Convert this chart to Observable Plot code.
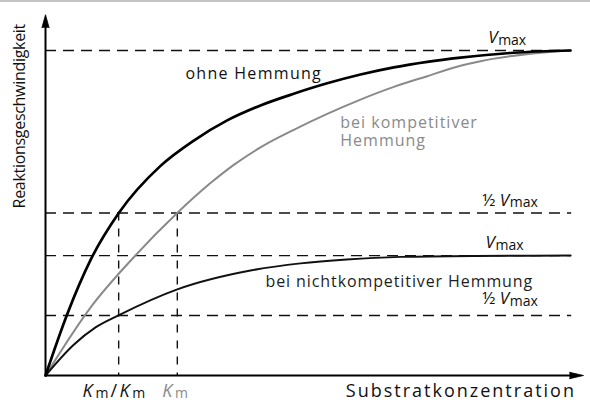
<!DOCTYPE html>
<html>
<head>
<meta charset="utf-8">
<script src="https://cdn.jsdelivr.net/npm/d3@7"></script>
<script src="https://cdn.jsdelivr.net/npm/@observablehq/plot@0.6"></script>
<style>
  html, body { margin: 0; padding: 0; background: #fff; }
  #wrap { position: relative; width: 590px; height: 419px; overflow: hidden; }
  #topline { position: absolute; left: 0; top: 0; width: 590px; height: 2px; background: #c4c4c4; }
</style>
</head>
<body>
<div id="wrap"><div id="topline"></div></div>
<script>
// Substrate concentration in axis units (0..100 = full x axis); rate as fraction of Vmax
const sOhne  = [0, 4.09, 8.36, 13.62, 21.38, 27.57, 33.77, 39.96, 46.15, 52.36, 58.55, 64.74, 70.95, 77.14, 86.99, 97.58];
const vOhne  = [0, 0.191, 0.355, 0.5, 0.645, 0.723, 0.785, 0.831, 0.867, 0.899, 0.926, 0.948, 0.965, 0.978, 0.993, 1.0];

const sKomp  = [0, 8.36, 16.41, 24.48, 30.67, 35.0, 39.96, 46.15, 52.36, 58.55, 64.74, 70.95, 77.14, 80.86, 90.15, 97.58];
const vKomp  = [0, 0.209, 0.364, 0.5, 0.592, 0.648, 0.702, 0.756, 0.805, 0.849, 0.888, 0.921, 0.953, 0.967, 0.990, 1.0];

const sNicht = [0, 5.2, 9.3, 13.57, 24.5, 38.1, 47.4, 56.0, 66.0, 80.0, 97.6];
const vNicht = [0, 0.094, 0.148, 0.185, 0.265, 0.323, 0.345, 0.357, 0.365, 0.368, 0.369];

// reference levels
const vmax = 1.0;
const vmaxNicht = 0.369;
const hLevels = [vmax, vmax / 2, vmaxNicht, vmaxNicht / 2];
const hEnd = 97.8;
const kmValues = [13.6, 24.5];     // Km (ohne / nichtkompetitiv), Km (kompetitiv)

// labels (x, baseline y in data units)
const lblText  = ["ohne Hemmung", "bei kompetitiver\nHemmung", "V_max", "½ V_max", "V_max", "bei nichtkompetitiver Hemmung", "½ V_max", "K_m/K_m", "K_m"];
const lblX     = [26.0, 54.8, 82.3, 81.2, 81.8, 40.9, 81.2, 6.9, 21.7];
const lblY     = [0.911, 0.705, 1.022, 0.523, 0.391, 0.271, 0.219, -0.065, -0.065];
const lblColor = ["#111", "#8a8a8a", "#111", "#111", "#111", "#1e1e1e", "#111", "#111", "#8a8a8a"];
const lblSize  = [16, 16, 17, 17, 17, 16, 17, 18, 18];

const xTitle = "Substratkonzentration";
const yTitle = "Reaktionsgeschwindigkeit";

const idx = (a) => a.map((_, i) => i);
const font = "'Open Sans', 'Noto Sans', sans-serif";
const textMark = (size) => Plot.text(idx(lblText).filter(i => lblSize[i] === size), {
  x: i => lblX[i], y: i => lblY[i], text: i => lblText[i], fill: i => lblColor[i],
  fontSize: size, lineHeight: 1.125, textAnchor: "start", lineAnchor: "bottom"
});

const chart = Plot.plot({
  width: 590,
  height: 419,
  marginTop: 0, marginRight: 0, marginBottom: 0, marginLeft: 0,
  x: { domain: [0, 100], range: [45, 583], axis: null },
  y: { domain: [0, 1], range: [375, 50], axis: null },
  style: { fontFamily: font, background: "transparent", overflow: "visible" },
  marks: [
    // dashed guides
    Plot.ruleY(hLevels, { x1: 0, x2: hEnd, stroke: "#111", strokeWidth: 1.4, strokeDasharray: "11,7" }),
    Plot.ruleX(kmValues, { y1: 0.5, y2: 0, stroke: "#111", strokeWidth: 1.4, strokeDasharray: "8,8" }),
    // curves
    Plot.line(idx(sKomp),  { x: sKomp,  y: vKomp,  curve: "monotone-x", stroke: "#8a8a8a", strokeWidth: 2 }),
    Plot.line(idx(sNicht), { x: sNicht, y: vNicht, curve: "monotone-x", stroke: "#111", strokeWidth: 2 }),
    Plot.line(idx(sOhne),  { x: sOhne,  y: vOhne,  curve: "monotone-x", stroke: "#000", strokeWidth: 2.7 }),
    // axes with arrows
    Plot.ruleX([0], { y1: 0, y2: 1.085, stroke: "#000", strokeWidth: 2 }),
    Plot.ruleY([0], { x1: 0, x2: 98.6, stroke: "#000", strokeWidth: 2 }),
    Plot.vector([0], { x: 0, y: 1.11, rotate: 0, length: 13, r: 3.6, shape: "spike", anchor: "end", fill: "#000", stroke: "#000", strokeWidth: 0.8 }),
    Plot.vector([0], { x: 100, y: 0, rotate: 90, length: 14, r: 3.2, shape: "spike", anchor: "end", fill: "#000", stroke: "#000", strokeWidth: 0.8 }),
    // labels
    textMark(16),
    textMark(17),
    textMark(18),
    Plot.text([xTitle], { x: 98.6, y: -0.065, text: d => d, fill: "#111", fontSize: 18, textAnchor: "end", lineAnchor: "bottom" }),
    Plot.text([yTitle], { x: -3.81, y: 0.514, text: d => d, fill: "#111", fontSize: 16, rotate: -90, textAnchor: "start", lineAnchor: "bottom" })
  ]
});

// rich text: italic variable + small subscript, letter spacing
const NS = "http://www.w3.org/2000/svg";
const spacing = {
  "ohne Hemmung": 1.3, "bei kompetitiver": 1, "Hemmung": 1, "bei kompetitiverHemmung": 1,
  "bei nichtkompetitiver Hemmung": 0.9, "Substratkonzentration": 2, "K_m/K_m": 2.2, "K_m": 2.2,
  "Reaktionsgeschwindigkeit": -0.3
};
chart.querySelectorAll("text").forEach(t => {
  const s = t.textContent;
  if (spacing[s] != null) t.setAttribute("letter-spacing", spacing[s] + "px");
  if (!s.includes("_")) return;
  const base = parseFloat(t.parentNode.getAttribute("font-size")) || 17;
  t.textContent = "";
  let pending = 0;
  const add = (str, attrs) => {
    const ts = document.createElementNS(NS, "tspan");
    for (const k in attrs) ts.setAttribute(k, attrs[k]);
    if (pending) { ts.setAttribute("dy", pending); pending = 0; }
    ts.textContent = str;
    t.appendChild(ts);
  };
  const re = /([A-Za-z])_([a-z]+)/g;
  let last = 0, m;
  while ((m = re.exec(s))) {
    if (m.index > last) add(s.slice(last, m.index), {});
    add(m[1], { "font-style": "italic" });
    add(m[2], { "font-size": Math.round(base * 0.8) + "px", "dy": "1.5", "dx": "0.5" });
    pending = -1.5;
    last = re.lastIndex;
  }
  if (last < s.length) add(s.slice(last), {});
});

document.getElementById("wrap").appendChild(chart);
</script>
</body>
</html>
